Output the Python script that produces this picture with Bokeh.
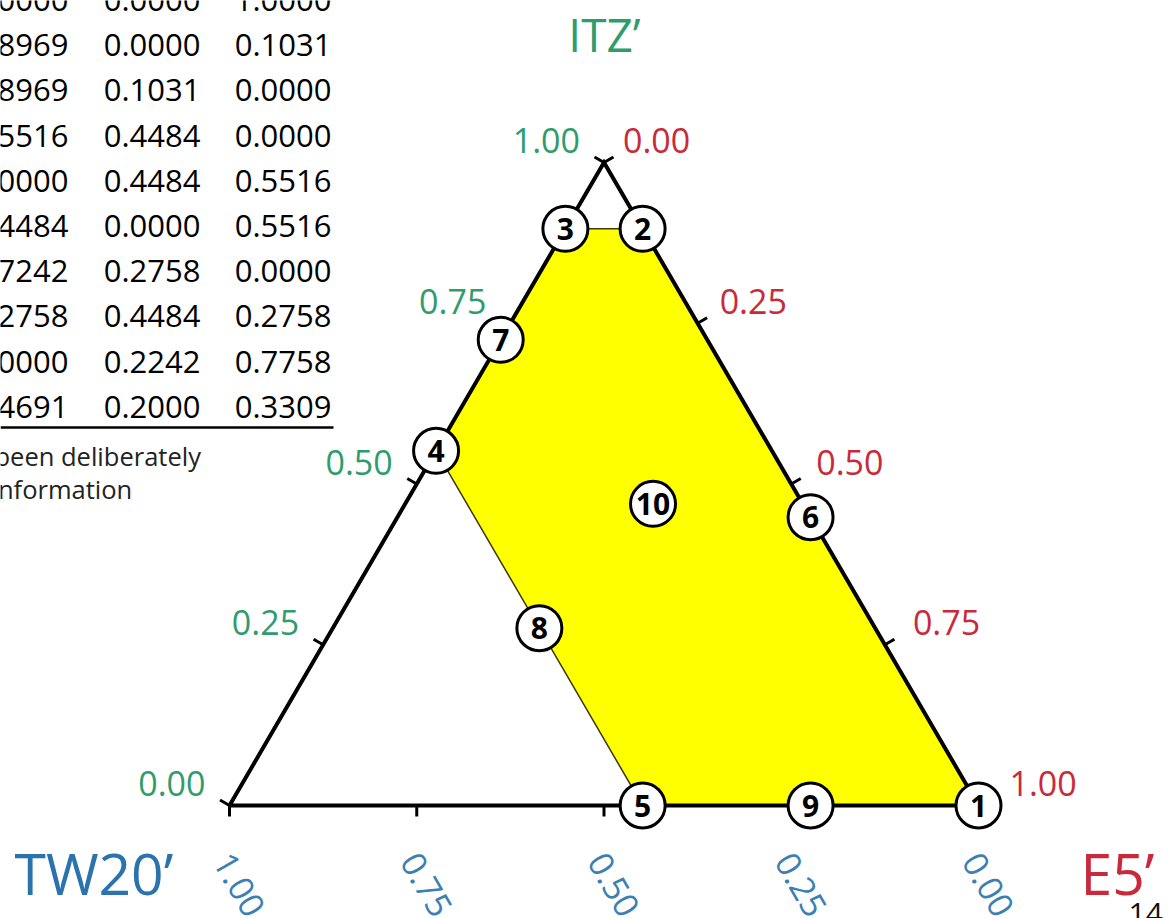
import math

from bokeh.core.properties import value
from bokeh.embed import file_html
from bokeh.models import ColumnDataSource, Range1d
from bokeh.plotting import figure
from bokeh.resources import INLINE

# Mixture design points: fractions of ITZ', TW20' and E5' (each row sums to 1)
point_ids = ["1", "2", "3", "4", "5", "6", "7", "8", "9", "10"]
itz = [0.0000, 0.8969, 0.8969, 0.5516, 0.0000, 0.4484, 0.7242, 0.2758, 0.0000, 0.4691]
tw20 = [0.0000, 0.0000, 0.1031, 0.4484, 0.4484, 0.0000, 0.2758, 0.4484, 0.2242, 0.2000]
e5 = [1.0000, 0.1031, 0.0000, 0.0000, 0.5516, 0.5516, 0.0000, 0.2758, 0.7758, 0.3309]

# Points on the boundary of the feasible region, in drawing order
region_order = ["3", "2", "6", "1", "9", "5", "8", "4", "7"]

# Axis ticks shared by the three edges
tick_values = [0.0, 0.25, 0.50, 0.75, 1.0]
tick_labels = ["0.00", "0.25", "0.50", "0.75", "1.00"]

# Component names
name_itz = "ITZ\u2019"
name_tw20 = "TW20\u2019"
name_e5 = "E5\u2019"

FONT = "Open Sans"
GREEN = "#2f9c6c"
RED = "#c92a3b"
BLUE = "#2a73ad"
BLUE_TICK = "#3a80b2"

# ---- canvas geometry -------------------------------------------------------
W, H_PX = 1170, 918
PX_PER_UNIT = 749.0          # length of the base edge in pixels
ORIGIN_X, ORIGIN_Y = 229.0, 805.0   # pixel position of the TW20' corner
HEIGHT = 643.0 / PX_PER_UNIT        # apex height of the triangle, in units


def px(d):
    """pixel distance -> data units"""
    return d / PX_PER_UNIT


def at(xp, yp):
    """canvas pixel position -> data coordinates (for layout-only texts)"""
    return (xp - ORIGIN_X) / PX_PER_UNIT, (ORIGIN_Y - yp) / PX_PER_UNIT


def tern(t, e):
    """(ITZ', E5') fractions -> cartesian position inside the triangle"""
    return e + t / 2.0, t * HEIGHT


p = figure(
    width=W, height=H_PX,
    x_range=Range1d(-ORIGIN_X / PX_PER_UNIT, (W - ORIGIN_X) / PX_PER_UNIT),
    y_range=Range1d(-(H_PX - ORIGIN_Y) / PX_PER_UNIT, ORIGIN_Y / PX_PER_UNIT),
    output_backend="svg", toolbar_location=None,
    min_border=0, outline_line_color=None,
    background_fill_color="white", border_fill_color="white",
)
p.axis.visible = False
p.grid.visible = False

# ---- table of compositions (left) -------------------------------------------
col_right = [68, 200, 331]
row_top, row_step = -0.5, 45.2
for j, col in enumerate([itz, tw20, e5]):
    xs, ys, txt = [], [], []
    for i, v in enumerate(col):
        x, y = at(col_right[j], row_top + i * row_step)
        xs.append(x)
        ys.append(y)
        txt.append(f"{v:.4f}")
    p.text(xs, ys, text=txt, text_font=value(FONT), text_font_size="31px",
           text_color="black", text_align="right", text_baseline="middle")

ux0, uy = at(0, 427)
ux1, _ = at(333, 427)
p.line([ux0, ux1], [uy, uy], line_color="black", line_width=2.5)

fx, fy1 = at(-6, 455)
_, fy2 = at(-6, 488)
p.text([fx], [fy1], text=["been deliberately"], text_font=value(FONT),
       text_font_size="25.5px", text_color="#222222", text_baseline="middle")
fx2, _ = at(-9, 0)
p.text([fx2], [fy2], text=["information"], text_font=value(FONT),
       text_font_size="25.5px", text_color="#222222", text_baseline="middle")

pgx, pgy = at(1128, 902)
p.text([pgx], [pgy], text=["14"], text_font=value(FONT), text_font_size="30px",
       text_color="#111111", text_baseline="top")

# ---- feasible region ---------------------------------------------------------
idx = {pid: k for k, pid in enumerate(point_ids)}
reg = [tern(itz[idx[r]], e5[idx[r]]) for r in region_order]
p.patch([q[0] for q in reg], [q[1] for q in reg], fill_color="#ffff00",
        line_color="#3a3a10", line_width=1.5)

# ---- triangle frame ----------------------------------------------------------
corners = [tern(0, 0), tern(0, 1), tern(1, 0), tern(0, 0)]
p.line([c[0] for c in corners], [c[1] for c in corners], line_color="black",
       line_width=4, line_join="miter")

tick_len = px(11)
nl = math.hypot(HEIGHT, 0.5)
left_n = (-HEIGHT / nl, 0.5 / nl)
right_n = (HEIGHT / nl, 0.5 / nl)
bottom_n = (0.0, -1.0)

tx0, ty0, tx1, ty1 = [], [], [], []
for v in tick_values:
    for (bx, by), n in [(tern(v, 0), left_n), (tern(1 - v, v), right_n),
                        (tern(0, 1 - v), bottom_n)]:
        tx0.append(bx)
        ty0.append(by)
        tx1.append(bx + n[0] * tick_len)
        ty1.append(by + n[1] * tick_len)
p.segment(tx0, ty0, tx1, ty1, line_color="black", line_width=3)

# tick labels
lx, ly, rx, ry, bx_, by_ = [], [], [], [], [], []
for v in tick_values:
    x, y = tern(v, 0)
    lx.append(x - px(24))
    ly.append(y + px(22))
    x, y = tern(1 - v, v)
    rx.append(x + px(19) + px(12) * v)
    ry.append(y + px(22))
    x, y = tern(0, 1 - v)
    bx_.append(x + px(10))
    by_.append(y - px(79))

TICK_FS = "34px"
p.text(lx, ly, text=tick_labels, text_font=value(FONT), text_font_size=TICK_FS,
       text_color=GREEN, text_align="right", text_baseline="middle")
p.text(rx, ry, text=tick_labels, text_font=value(FONT), text_font_size=TICK_FS,
       text_color=RED, text_align="left", text_baseline="middle")
p.text(bx_, by_, text=tick_labels, text_font=value(FONT), text_font_size=TICK_FS,
       text_color=BLUE_TICK, text_align="center", text_baseline="middle",
       angle=-math.pi / 3)

# component names
tx, ty = at(604, 33)
p.text([tx], [ty], text=[name_itz], text_font=value(FONT), text_font_size="46px",
       text_color=GREEN, text_align="center", text_baseline="middle")
tx, ty = at(14, 872)
p.text([tx], [ty], text=[name_tw20], text_font=value(FONT), text_font_size="57px",
       text_color=BLUE, text_align="left", text_baseline="middle")
tx, ty = at(1080, 872)
p.text([tx], [ty], text=[name_e5], text_font=value(FONT), text_font_size="57px",
       text_color=RED, text_align="left", text_baseline="middle")

# ---- design points -----------------------------------------------------------
pts = [tern(t, e) for t, e in zip(itz, e5)]
src = ColumnDataSource(dict(x=[q[0] for q in pts], y=[q[1] for q in pts],
                            label=point_ids))
p.scatter("x", "y", source=src, size=45, fill_color="white",
          line_color="black", line_width=3)
p.text("x", "y", text="label", source=src, text_font=value(FONT),
       text_font_size="30px", text_font_style="bold", text_color="black",
       text_align="center", text_baseline="middle")

open("out.html", "w").write(file_html(p, INLINE))
